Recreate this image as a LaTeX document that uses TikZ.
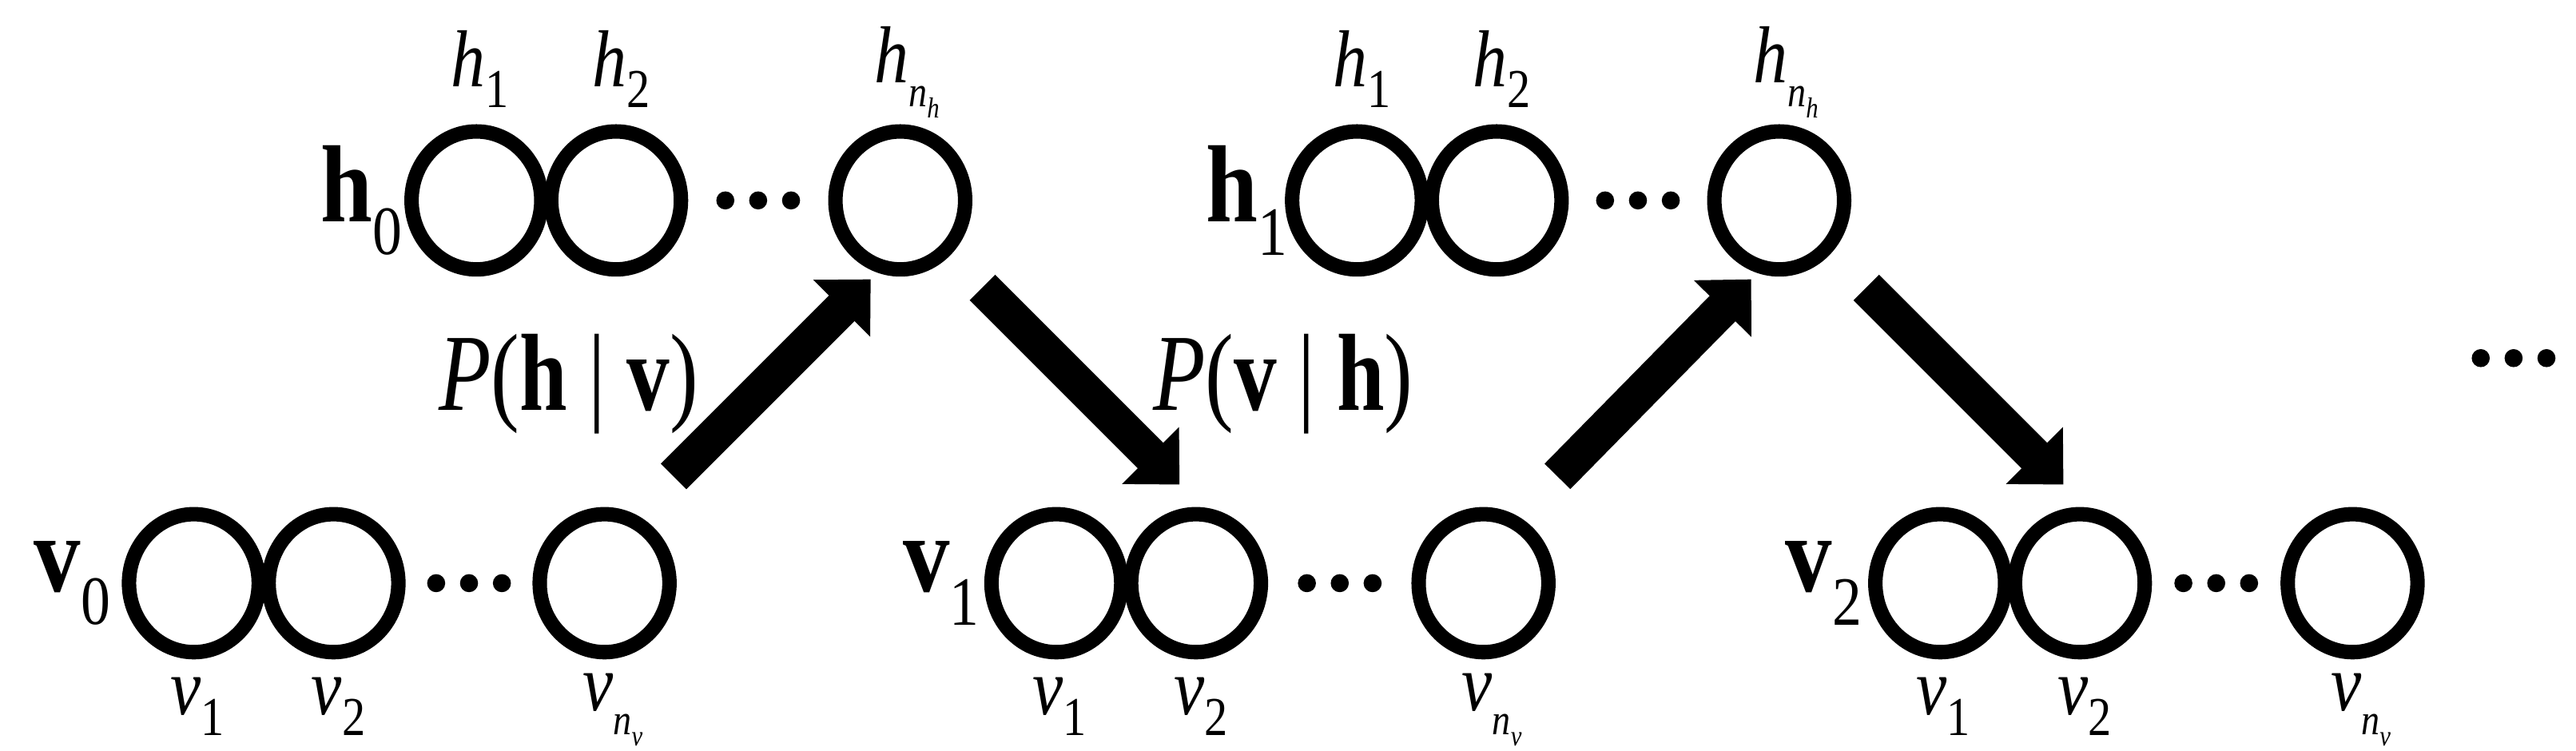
\documentclass[tikz,border=0pt]{standalone}
\usepackage{fontspec}
\setmainfont{Liberation Serif}
\usetikzlibrary{arrows.meta,shapes.geometric,calc}
\newcommand{\hsub}[1]{\scalebox{0.85}[1]{\textit{h}\raisebox{-0.25em}{\fontsize{19}{20}\selectfont #1}}}
\newcommand{\vsub}[1]{\scalebox{0.85}[1]{\textit{v}\raisebox{-0.25em}{\fontsize{19}{20}\selectfont #1}}}
\newcommand{\hn}{\scalebox{0.85}[1]{\textit{h}\raisebox{-0.3em}{\fontsize{15}{16}\selectfont\textit{n}\raisebox{-0.25em}{\fontsize{10}{11}\selectfont\textit{h}}}}}
\newcommand{\vn}{\scalebox{0.85}[1]{\textit{v}\raisebox{-0.3em}{\fontsize{15}{16}\selectfont\textit{n}\raisebox{-0.25em}{\fontsize{10}{11}\selectfont\textit{v}}}}}
\newcommand{\bsub}[2]{\scalebox{0.85}[1]{\textbf{#1}\raisebox{-0.3em}{\fontsize{24}{26}\selectfont #2}}}
\begin{document}
\begin{tikzpicture}[x=0.02cm,y=-0.02cm,
 unit/.style={draw,line width=5pt,ellipse,minimum width=1.58cm,minimum height=1.68cm,inner sep=0},
 lbl/.style={font=\fontsize{28}{30}\selectfont,inner sep=0},
 big/.style={font=\fontsize{38}{40}\selectfont,inner sep=0},
 arr/.style={line width=0.44cm,-{Triangle[length=0.5cm,width=0.95cm]}},
 dot/.style={fill,circle,inner sep=0,minimum size=0.22cm}]
\useasboundingbox (0,0) rectangle (1568,457);
% h0 layer
\node[unit] (h0a) at (290,122) {};
\node[unit] (h0b) at (375,122) {};
\node[unit] (h0c) at (548,122) {};
\foreach \d in {-20,0,20} \node[dot] at ($(h0b)!0.5!(h0c)+(\d,0)$) {};
\node[big] (h0l) at (220,122) {\bsub{h}{0}};
\node[lbl] at (292,42) {\hsub{1}};
\node[lbl] at (378,42) {\hsub{2}};
\node[lbl] at (552,44) {\hn};
% h1 layer
\node[unit] (h1a) at (826,122) {};
\node[unit] (h1b) at (911,122) {};
\node[unit] (h1c) at (1083,122) {};
\foreach \d in {-20,0,20} \node[dot] at ($(h1b)!0.5!(h1c)+(\d,0)$) {};
\node[big] (h1l) at (759,122) {\bsub{h}{1}};
\node[lbl] at (829,42) {\hsub{1}};
\node[lbl] at (914,42) {\hsub{2}};
\node[lbl] at (1087,44) {\hn};
% v0 layer
\node[unit] (v0a) at (118,355) {};
\node[unit] (v0b) at (203,355) {};
\node[unit] (v0c) at (368,355) {};
\foreach \d in {-20,0,20} \node[dot] at ($(v0b)!0.5!(v0c)+(\d,0)$) {};
\node[big] (v0l) at (44,355) {\bsub{v}{0}};
\node[lbl] at (120,430) {\vsub{1}};
\node[lbl] at (206,430) {\vsub{2}};
\node[lbl] at (373,432) {\vn};
% v1 layer
\node[unit] (v1a) at (643,355) {};
\node[unit] (v1b) at (728,355) {};
\node[unit] (v1c) at (903,355) {};
\foreach \d in {-20,0,20} \node[dot] at ($(v1b)!0.5!(v1c)+(\d,0)$) {};
\node[big] (v1l) at (573,355) {\bsub{v}{1}};
\node[lbl] at (645,430) {\vsub{1}};
\node[lbl] at (731,430) {\vsub{2}};
\node[lbl] at (908,432) {\vn};
% v2 layer
\node[unit] (v2a) at (1181,355) {};
\node[unit] (v2b) at (1266,355) {};
\node[unit] (v2c) at (1432,355) {};
\foreach \d in {-20,0,20} \node[dot] at ($(v2b)!0.5!(v2c)+(\d,0)$) {};
\node[big] (v2l) at (1110,355) {\bsub{v}{2}};
\node[lbl] at (1183,430) {\vsub{1}};
\node[lbl] at (1269,430) {\vsub{2}};
\node[lbl] at (1437,432) {\vn};
% arrows
\coordinate (a1s) at (410,290); \coordinate (a1e) at (530,170);
\coordinate (a2s) at (598,175); \coordinate (a2e) at (718,295);
\coordinate (a3s) at (948,290); \coordinate (a3e) at (1066,170);
\coordinate (a4s) at (1136,175); \coordinate (a4e) at (1256,295);
\draw[arr] (a1s) -- (a1e);
\draw[arr] (a2s) -- (a2e);
\draw[arr] (a3s) -- (a3e);
\draw[arr] (a4s) -- (a4e);
\node[big] (p1) at (346,234) {\scalebox{0.78}[1]{\textit{P}(\textbf{h} | \textbf{v})}};
\node[big] (p2) at (781,234) {\scalebox{0.78}[1]{\textit{P}(\textbf{v} | \textbf{h})}};
% trailing dots
\foreach \d in {-20,0,20} \node[dot] at ($(1530,218)+(\d,0)$) {};
\end{tikzpicture}
\end{document}
